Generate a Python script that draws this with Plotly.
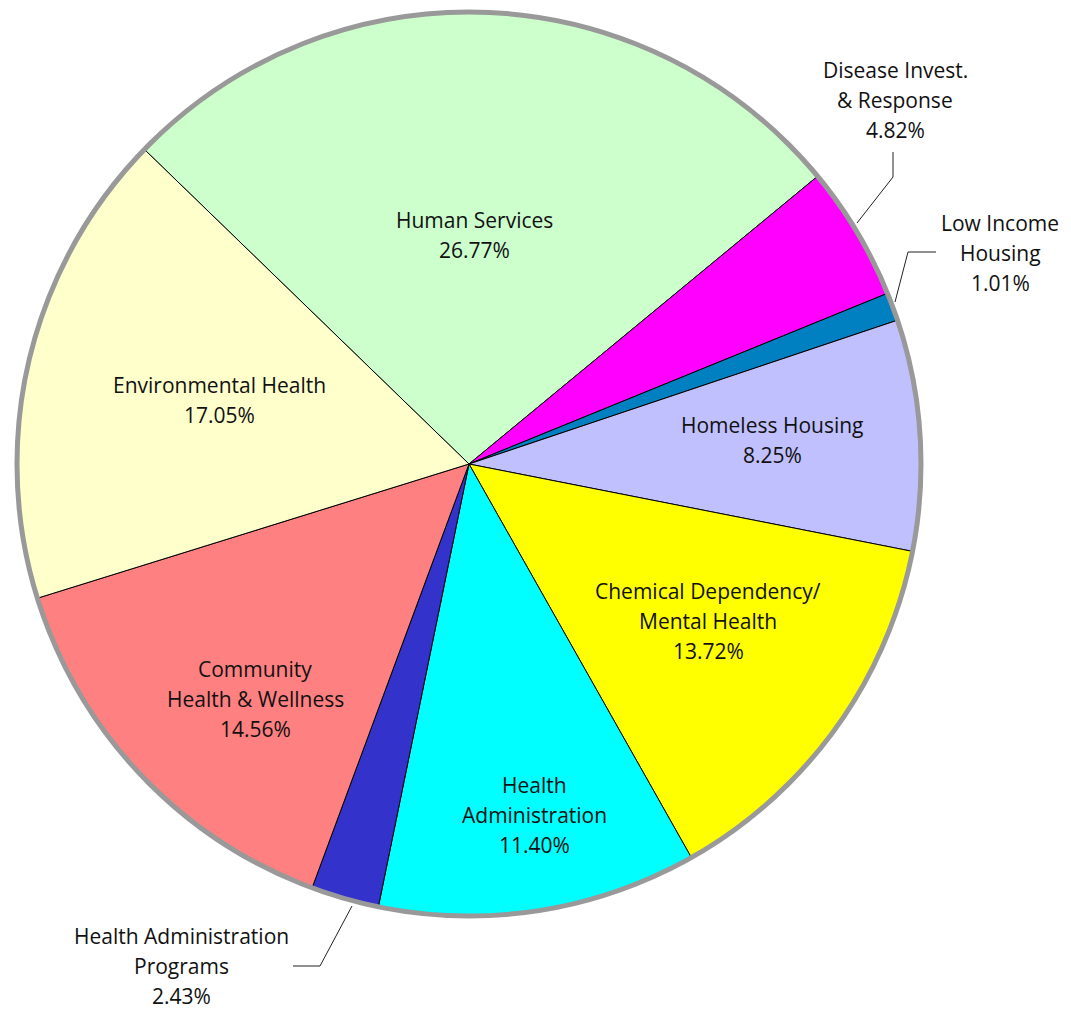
import plotly.graph_objects as go

# ---- data ----
categories = [
    "Human Services",
    "Disease Invest. & Response",
    "Low Income Housing",
    "Homeless Housing",
    "Chemical Dependency/ Mental Health",
    "Health Administration",
    "Health Administration Programs",
    "Community Health & Wellness",
    "Environmental Health",
]
values = [26.77, 4.82, 1.01, 8.25, 13.72, 11.40, 2.43, 14.56, 17.05]
colors = ["#CCFFCC", "#FF00FF", "#0080C0", "#C0C0FF", "#FFFF00",
          "#00FFFF", "#3333CC", "#FF8080", "#FFFFCC"]

# label text lines (category split into display lines)
label_lines = [
    ["Human Services"],
    ["Disease Invest.", "& Response"],
    ["Low Income", "Housing"],
    ["Homeless Housing"],
    ["Chemical Dependency/", "Mental Health"],
    ["Health", "Administration"],
    ["Health Administration", "Programs"],
    ["Community", "Health & Wellness"],
    ["Environmental Health"],
]

# ---- layout / style (page-pixel positions for label placement) ----
PAGE_OFF = 8                 # browser body margin
W, H = 1071 - PAGE_OFF, 1009 - PAGE_OFF
CX, CY, R = 469, 464, 452
label_pos = [  # center x, first-line baseline y (page pixels)
    (474, 227), (895, 77), (1000, 230), (772, 432), (708, 598),
    (534, 792), (181, 943), (255, 676), (219, 392),
]
line_gap = 30
FONT = "Open Sans"
FS = 21

leaders = [
    [(893, 152), (893, 177), (857, 223)],
    [(936, 252), (908, 252), (895, 302)],
    [(293, 966), (320, 966), (352, 906)],
]


def px(x):
    return (x - PAGE_OFF) / W


def py(y):
    return 1 - (y - PAGE_OFF) / H


fig = go.Figure()
fig.add_trace(go.Pie(
    labels=categories,
    values=values,
    sort=False,
    direction="clockwise",
    rotation=-45.9,
    marker=dict(colors=colors, line=dict(color="black", width=1)),
    textinfo="none",
    hoverinfo="label+percent",
    showlegend=False,
    domain=dict(x=[px(CX - R), px(CX + R)], y=[py(CY + R), py(CY - R)]),
))

annotations = []
for lines, v, (x, y) in zip(label_lines, values, label_pos):
    all_lines = lines + [f"{v:.2f}%"]
    for i, t in enumerate(all_lines):
        base = y + i * line_gap
        annotations.append(dict(
            x=px(x), y=py(base - 7), xref="paper", yref="paper",
            text=t, showarrow=False, xanchor="center", yanchor="middle",
            font=dict(family=FONT, size=FS, color="#111111"),
        ))

shapes = [dict(
    type="circle", xref="paper", yref="paper",
    x0=px(CX - R), x1=px(CX + R), y0=py(CY + R), y1=py(CY - R),
    line=dict(color="#999999", width=5), fillcolor="rgba(0,0,0,0)",
)]
for pts in leaders:
    path = "M " + " L ".join(f"{px(a)},{py(b)}" for a, b in pts)
    shapes.append(dict(type="path", xref="paper", yref="paper", path=path,
                       line=dict(color="#222222", width=1)))

fig.update_layout(
    width=W, height=H,
    margin=dict(l=0, r=0, t=0, b=0),
    paper_bgcolor="white", plot_bgcolor="white",
    annotations=annotations, shapes=shapes,
)

fig.write_html("out.html")
